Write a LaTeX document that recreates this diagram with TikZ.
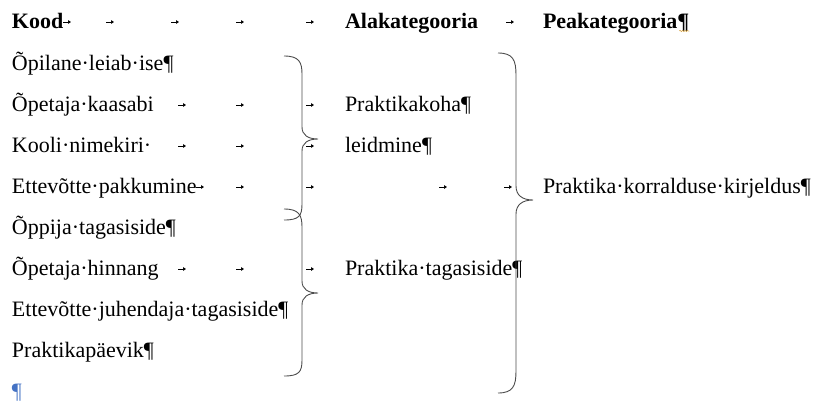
\documentclass[tikz,border=0pt]{standalone}
\usepackage{fontspec}
\setmainfont{Liberation Serif}
\usetikzlibrary{arrows.meta,decorations.pathmorphing}
\definecolor{markblue}{RGB}{68,114,196}
\definecolor{spellorange}{RGB}{214,160,60}

\begin{document}
\begin{tikzpicture}[x=1pt,y=-1pt,
  txt/.style={anchor=base west,inner sep=0pt,outer sep=0pt,font=\fontsize{22}{26}\selectfont},
  head/.style={txt,font=\fontsize{22}{26}\selectfont\bfseries},
  tabmark/.style={line width=0.7pt,-{Triangle[length=3pt,width=3.6pt]}},
  bracket/.style={draw=black!70,line width=0.9pt}]

  % --------- knobs you can tweak ----------
  \def\colA{12}   % Kood column
  \def\colB{345}  % Alakategooria column
  \def\colC{543}  % Peakategooria column
  % ----------------------------------------

  \useasboundingbox (0,0) rectangle (814,405);

  % ============== Header row =================
  \node[head] (kood)   at (\colA,28) {Kood};
  \node[head] (alakat) at (\colB,28) {Alakategooria};
  \node[head] (peakat) at (\colC,28) {Peakategooria¶};
  \draw[spellorange,line width=0.5pt,decorate,
        decoration={snake,amplitude=0.7pt,segment length=2.5pt}]
    ([xshift=-10pt,yshift=-3pt]peakat.base east) -- ([yshift=-3pt]peakat.base east);

  % ============== Codes =================
  \node[txt] (kood1) at (\colA,70)  {Õpilane·leiab·ise¶};
  \node[txt] (kood2) at (\colA,111) {Õpetaja·kaasabi};
  \node[txt] (kood3) at (\colA,152) {Kooli·nimekiri·};
  \node[txt] (kood4) at (\colA,193) {Ettevõtte·pakkumine};
  \node[txt] (kood5) at (\colA,234) {Õppija·tagasiside¶};
  \node[txt] (kood6) at (\colA,275) {Õpetaja·hinnang};
  \node[txt] (kood7) at (\colA,316) {Ettevõtte·juhendaja·tagasiside¶};
  \node[txt] (kood8) at (\colA,357) {Praktikapäevik¶};
  \node[txt,text=markblue] (lastpar) at (\colA,398) {¶};

  % ============== Subcategories =================
  \node[txt] (sub1) at (\colB,111) {Praktikakoha¶};
  \node[txt] (sub2) at (\colB,152) {leidmine¶};
  \node[txt] (sub3) at (\colB,275) {Praktika·tagasiside¶};

  % ============== Main category =================
  \node[txt] (main1) at (\colC,193) {Praktika·korralduse·kirjeldus¶};

  % Tab marks
  \draw[tabmark] (63,22) -- (71,22);
  \draw[tabmark] (106,22) -- (114,22);
  \draw[tabmark] (171,22) -- (179,22);
  \draw[tabmark] (236,22) -- (244,22);
  \draw[tabmark] (306,22) -- (314,22);
  \draw[tabmark] (506,22) -- (514,22);

  \draw[tabmark] (178,105) -- (186,105);
  \draw[tabmark] (236,105) -- (244,105);
  \draw[tabmark] (306,105) -- (314,105);

  \draw[tabmark] (178,146) -- (186,146);
  \draw[tabmark] (236,146) -- (244,146);
  \draw[tabmark] (306,146) -- (314,146);

  \draw[tabmark] (196,187) -- (204,187);
  \draw[tabmark] (236,187) -- (244,187);
  \draw[tabmark] (306,187) -- (314,187);
  \draw[tabmark] (439,187) -- (447,187);
  \draw[tabmark] (504,187) -- (512,187);

  \draw[tabmark] (178,269) -- (186,269);
  \draw[tabmark] (236,269) -- (244,269);
  \draw[tabmark] (306,269) -- (314,269);

  % Braces
  \draw[bracket] (284,56) .. controls (299,56) and (302,62) .. (302,74)
    -- (302,127) .. controls (302,135) and (308,139) .. (318,139)
    .. controls (308,139) and (302,143) .. (302,151)
    -- (302,204) .. controls (302,216) and (299,220) .. (284,220);
  \draw[bracket] (284,209) .. controls (299,209) and (302,215) .. (302,227)
    -- (302,281) .. controls (302,289) and (308,293) .. (318,293)
    .. controls (308,293) and (302,297) .. (302,305)
    -- (302,360) .. controls (302,372) and (299,376) .. (284,376);
  \draw[bracket] (498,53) .. controls (513,53) and (516,60) .. (516,75)
    -- (516,186) .. controls (516,195) and (522,200) .. (533,200)
    .. controls (522,200) and (516,205) .. (516,214)
    -- (516,371) .. controls (516,386) and (513,393) .. (498,393);

\end{tikzpicture}
\end{document}
